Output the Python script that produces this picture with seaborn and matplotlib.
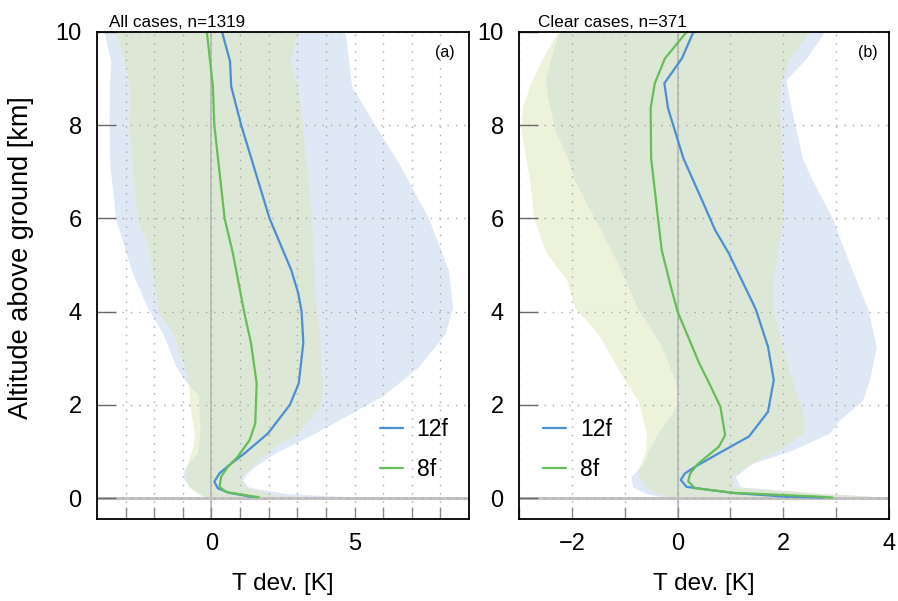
import numpy as np
import pandas as pd
import seaborn as sns
import matplotlib
matplotlib.use("Agg")
import matplotlib.pyplot as plt

# ---------------- data ----------------
# Panel (a): all cases
a12_h = [0.02, 0.03, 0.11, 0.21, 0.35, 0.53, 0.74, 0.96, 1.39, 2.0, 2.46, 3.33, 4.0, 4.4, 4.89, 6.0, 8.0, 8.83, 9.37, 10.0]
a12_T = [1.5, 1.39, 0.63, 0.22, 0.10, 0.28, 0.69, 1.16, 1.98, 2.74, 3.05, 3.21, 3.15, 3.03, 2.79, 2.03, 1.04, 0.69, 0.65, 0.37]
a8_h = [0.02, 0.03, 0.13, 0.24, 0.46, 0.67, 0.89, 1.24, 1.6, 2.46, 3.33, 4.0, 5.25, 6.0, 8.0, 8.83, 10.0]
a8_T = [1.65, 1.51, 0.51, 0.28, 0.34, 0.57, 0.92, 1.33, 1.53, 1.58, 1.38, 1.14, 0.75, 0.46, 0.10, 0.05, -0.16]

a12_band_h = [0.0, 0.05, 0.1, 0.24, 0.39, 0.53, 0.67, 0.96, 1.39, 2.2, 2.5, 2.82, 3.53, 4.1, 4.89, 6.0, 7.19, 8.0, 8.83, 9.37, 10.0]
a12_band_lo = [-0.1, -0.3, -0.45, -0.75, -0.95, -1.0, -0.9, -0.5, -0.4, -0.45, -0.9, -1.24, -1.7, -2.25, -2.8, -3.35, -3.56, -3.58, -3.57, -3.52, -3.75]
a12_band_hi = [6.0, 4.0, 2.56, 1.27, 1.1, 1.25, 1.51, 2.21, 3.61, 6.0, 6.6, 7.24, 8.17, 8.43, 8.28, 7.59, 6.54, 5.72, 4.9, 4.8, 4.67]

a8_band_h = [0.0, 0.05, 0.1, 0.24, 0.46, 0.74, 1.1, 1.39, 1.96, 2.46, 2.75, 3.53, 4.0, 5.39, 6.0, 7.9, 8.83, 9.37, 10.0]
a8_band_lo = [-0.2, -0.35, -0.5, -0.8, -0.9, -0.85, -0.65, -0.6, -0.75, -0.8, -0.9, -1.35, -1.85, -2.19, -2.6, -2.87, -2.85, -3.05, -3.35]
a8_band_hi = [4.0, 2.5, 2.0, 1.15, 1.04, 1.51, 2.21, 3.03, 3.79, 3.9, 3.83, 3.79, 3.66, 3.55, 3.5, 3.2, 3.03, 2.74, 3.03]

# Panel (b): clear cases
b12_h = [0.01, 0.03, 0.11, 0.24, 0.39, 0.53, 0.67, 0.96, 1.32, 1.85, 2.53, 3.25, 4.05, 5.25, 5.75, 6.32, 7.29, 8.36, 8.9, 9.43, 10.0]
b12_T = [2.78, 2.05, 1.03, 0.17, 0.06, 0.14, 0.33, 0.78, 1.35, 1.71, 1.82, 1.71, 1.48, 0.97, 0.71, 0.49, 0.11, -0.18, -0.25, 0.08, 0.30]
b8_h = [0.01, 0.03, 0.11, 0.21, 0.36, 0.53, 0.74, 1.1, 1.35, 1.96, 2.53, 2.89, 4.0, 4.46, 5.32, 6.0, 7.29, 8.36, 8.9, 9.43, 10.0]
b8_T = [2.93, 2.68, 1.09, 0.33, 0.20, 0.24, 0.39, 0.78, 0.90, 0.81, 0.57, 0.41, 0.0, -0.11, -0.30, -0.37, -0.50, -0.51, -0.43, -0.24, 0.17]

b12_band_h = [0.0, 0.05, 0.1, 0.24, 0.46, 0.74, 1.03, 1.39, 1.67, 2.1, 2.53, 3.25, 4.05, 5.04, 6.0, 6.82, 7.29, 7.9, 8.6, 8.97, 9.43, 10.0]
b12_band_lo = [-0.1, -0.4, -0.6, -0.85, -0.88, -0.65, -0.55, -0.37, -0.2, 0.05, -0.05, -0.3, -0.75, -1.13, -1.57, -1.95, -2.08, -2.32, -2.46, -2.5, -2.4, -2.24]
b12_band_hi = [4.0, 3.5, 2.7, 1.19, 1.09, 1.41, 2.17, 2.87, 3.06, 3.5, 3.63, 3.76, 3.6, 3.25, 2.93, 2.55, 2.36, 2.24, 2.11, 2.05, 2.43, 2.78]

b8_band_h = [0.0, 0.05, 0.1, 0.24, 0.46, 0.6, 0.89, 1.03, 1.39, 1.89, 2.1, 2.53, 3.53, 4.1, 4.68, 5.04, 5.32, 6.0, 6.82, 7.9, 8.36, 8.9, 9.43, 10.0]
b8_band_lo = [-0.05, -0.2, -0.4, -0.6, -0.72, -0.75, -0.65, -0.6, -0.59, -0.7, -0.75, -1.0, -1.51, -1.95, -2.1, -2.34, -2.51, -2.72, -2.8, -2.96, -2.94, -2.78, -2.56, -2.27]
b8_band_hi = [4.0, 3.5, 2.7, 1.06, 1.03, 1.2, 1.6, 1.92, 2.39, 2.36, 2.3, 2.17, 1.92, 1.8, 1.8, 1.86, 1.9, 2.0, 2.0, 1.95, 1.93, 1.95, 2.11, 2.49]

runs = ["12f", "8f"]
titles = ["All cases, n=1319", "Clear cases, n=371"]
panel_tags = ["(a)", "(b)"]
y_ticks = [0, 2, 4, 6, 8, 10]
a_xlabels = {0: "0", 5: "5"}
b_xlabels = {-2: "\u22122", 0: "0", 2: "2", 4: "4"}

# ---------------- style ----------------
sns.set_theme(style="white")
plt.rcParams["font.family"] = ["Liberation Sans", "DejaVu Sans"]
plt.rcParams["axes.unicode_minus"] = True
plt.rcParams["text.color"] = "black"
plt.rcParams["axes.labelcolor"] = "black"
plt.rcParams["xtick.labelcolor"] = "black"
plt.rcParams["ytick.labelcolor"] = "black"

c_line = {"12f": "#4a8fd6", "8f": "#66be58"}
c_band12 = "#dfe9f5"
c_band8 = "#dde7b9"

fig = plt.figure(figsize=(8.98, 6.01), dpi=100)
axA = fig.add_axes([97 / 898, 82 / 601, 372 / 898, 487 / 601])
axB = fig.add_axes([519 / 898, 82 / 601, 370 / 898, 487 / 601])

panels = [
    dict(ax=axA, lines={"12f": (a12_h, a12_T), "8f": (a8_h, a8_T)},
         b12=(a12_band_h, a12_band_lo, a12_band_hi), b8=(a8_band_h, a8_band_lo, a8_band_hi),
         xlim=(-4, 9), xt=range(-3, 9), xl=a_xlabels, loc="lower right", anchor=(1.0, 0.035)),
    dict(ax=axB, lines={"12f": (b12_h, b12_T), "8f": (b8_h, b8_T)},
         b12=(b12_band_h, b12_band_lo, b12_band_hi), b8=(b8_band_h, b8_band_lo, b8_band_hi),
         xlim=(-3, 4), xt=range(-3, 5), xl=b_xlabels, loc="lower left", anchor=(0.01, 0.035)),
]

for i, p in enumerate(panels):
    ax = p["ax"]
    h, lo, hi = p["b12"]
    ax.fill_betweenx(h, lo, hi, color=c_band12, lw=0, zorder=1)
    h, lo, hi = p["b8"]
    ax.fill_betweenx(h, lo, hi, color=c_band8, alpha=0.5, lw=0, zorder=1.1)

    ax.axvline(0, color="#b4b4b4", lw=1.1, zorder=1.5)
    ax.axhline(0, color="#c2c2c2", lw=2.2, zorder=1.5)

    frames = []
    for r in runs:
        hh, tt = p["lines"][r]
        frames.append(pd.DataFrame({"T": tt, "h": hh, "run": r}))
    df = pd.concat(frames, ignore_index=True)
    sns.lineplot(data=df, x="T", y="h", hue="run", hue_order=runs, palette=c_line,
                 orient="y", estimator=None, lw=1.6, ax=ax, zorder=3)

    ax.set_xlim(*p["xlim"])
    ax.set_ylim(-0.45, 10)
    xt = list(p["xt"])
    ax.set_xticks(xt)
    ax.set_xticklabels([p["xl"].get(v, "") for v in xt], fontsize=17)
    ax.set_yticks(y_ticks)
    ax.set_yticklabels([str(v) for v in y_ticks], fontsize=17)
    ax.tick_params(axis="x", direction="in", length=9, width=1, color="#8a8a8a", pad=10, bottom=True)
    ax.tick_params(axis="y", direction="in", length=14, width=1, color="#6a6a6a", pad=11, left=True)

    ax.grid(True, axis="x", color="#a8a8a8", lw=1.0, ls=(0, (1, 5)), zorder=0.5)
    ax.grid(True, axis="y", color="#a8a8a8", lw=1.0, ls=(0, (1, 5)), zorder=0.5)
    ax.set_axisbelow(False)
    for s in ax.spines.values():
        s.set_color("black")
        s.set_linewidth(1.3)
        s.set_zorder(5)

    ax.set_xlabel("T dev. [K]", fontsize=17.5, labelpad=13)
    ax.set_ylabel("")
    ax.text(0.032 if i == 0 else 0.05, 1.004, titles[i], transform=ax.transAxes,
            ha="left", va="bottom", fontsize=12.3)
    ax.text(0.962 if i == 0 else 0.968, 0.957, panel_tags[i], transform=ax.transAxes,
            ha="right", va="center", fontsize=11.5)

    leg = ax.legend(loc=p["loc"], bbox_to_anchor=p["anchor"], frameon=False, fontsize=16.5,
                    handlelength=1.0, handletextpad=0.6, labelspacing=0.75, borderaxespad=0.5)
    leg.set_title(None)

axA.set_ylabel("Altitude above ground [km]", fontsize=19.5)
axA.yaxis.set_label_coords(-0.17, 0.537)

fig.savefig("out.png", dpi=100)
